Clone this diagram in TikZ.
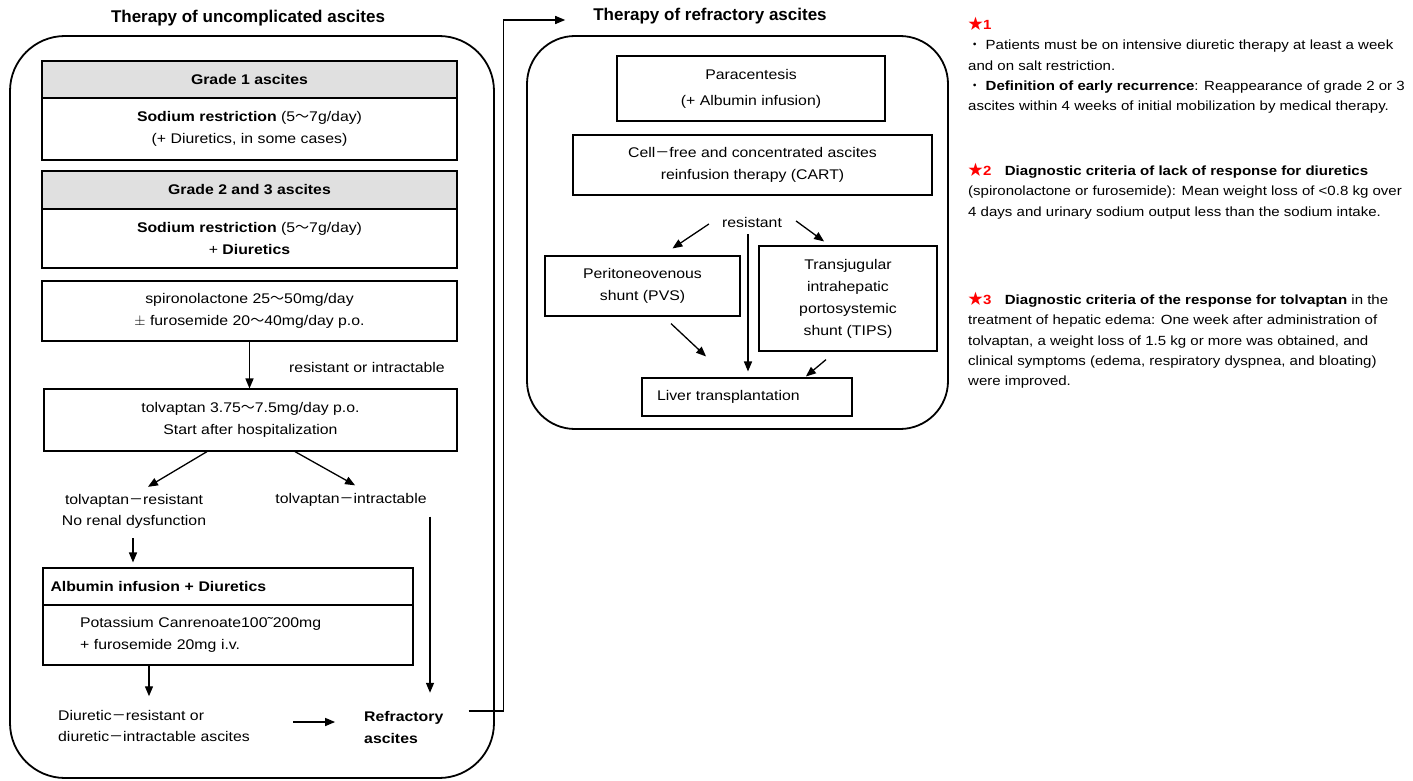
\documentclass[tikz,border=0pt]{standalone}
\usepackage{fontspec}
\setmainfont{Liberation Sans}[FakeStretch=1.13]
\newfontfamily\titlefont{Liberation Sans}
\newfontfamily\cjk{Noto Sans CJK JP}
\usepackage{tikz}
\usetikzlibrary{shapes,arrows,positioning}

\newcommand{\wave}{{\cjk ～}}
\newcommand{\hy}{{\cjk －}}
\newcommand{\dotmark}{{\cjk ・}}
\newcommand{\starno}[1]{\textcolor{red}{{\cjk\fontsize{15}{20}\selectfont ★}\textbf{#1}}}

\begin{document}
\begin{tikzpicture}[x=1pt, y=-1pt, >=triangle 45]
			\tikzstyle{Panel}	= [line width=1.8pt, rounded corners=55pt]
			\tikzstyle{Box}		= [draw, line width=1.2pt, align=center, inner sep=0pt, font=\fontsize{14}{22}\selectfont]
			\tikzstyle{Head}	= [Box, fill=black!12, font=\fontsize{14}{22}\selectfont\bfseries]
			\tikzstyle{Lbl}		= [align=center, inner sep=1pt, font=\fontsize{14}{21}\selectfont]
			\tikzstyle{Title}	= [inner sep=1pt, font=\titlefont\fontsize{17}{20}\selectfont\bfseries]
			\tikzstyle{Note}	= [anchor=north west, align=left, inner sep=0pt, font=\fontsize{13.3}{20.3}\selectfont]
			\tikzstyle{Arr}		= [line width=1.3pt]

			\useasboundingbox (0,0) rectangle (1413,781);

			% uncomplicated ascites
			\node (ltitle) at (248,18) [Title] {Therapy of uncomplicated ascites};
			\draw [Panel] (10,36) rectangle (494,778);

			\node (g1h) at (249.5,79.5) [Head, minimum width=415pt, minimum height=37pt] {Grade 1 ascites};
			\node (g1b) at (249.5,129) [Box, minimum width=415pt, minimum height=62pt] {\textbf{Sodium restriction} (5\wave7g/day)\\(+ Diuretics, in some cases)};
			\node (g2h) at (249.5,190) [Head, minimum width=415pt, minimum height=38pt] {Grade 2 and 3 ascites};
			\node (g2b) at (249.5,238.5) [Box, minimum width=415pt, minimum height=59pt] {\textbf{Sodium restriction} (5\wave7g/day)\\+ \textbf{Diuretics}};
			\node (spiro) at (249.5,311) [Box, minimum width=415pt, minimum height=60pt] {spironolactone 25\wave50mg/day\\$\pm$ furosemide 20\wave40mg/day p.o.};
			\node (rorI) at (367,367) [Lbl] {resistant or intractable};
			\node (tol) at (250.5,420) [Box, minimum width=413pt, minimum height=62pt] {tolvaptan 3.75\wave7.5mg/day p.o.\\Start after hospitalization};
			\node (tres) at (134,511) [Lbl] {tolvaptan\hy resistant\\No renal dysfunction};
			\node (tint) at (351,500) [Lbl] {tolvaptan\hy intractable};
			\node (albh) at (228,586.5) [Head, text width=355pt, inner xsep=7.5pt, minimum height=37pt, align=left, fill=white] {Albumin infusion + Diuretics};
			\node (albb) at (228,635) [Box, text width=296pt, inner xsep=37pt, minimum height=60pt, align=left] {Potassium Canrenoate100˜200mg\\+ furosemide 20mg i.v.};
			\node (dres) at (57,726) [Lbl, align=left, anchor=west] {Diuretic\hy resistant or\\diuretic\hy intractable ascites};
			\node (refr) at (363,727) [Lbl, align=left, anchor=west, font=\fontsize{14}{22}\selectfont\bfseries] {Refractory\\ascites};

			\draw [->] (spiro.south) to (spiro.south |- tol.north) [Arr];
			\draw [->] ([xshift=-43.5pt]tol.south) to ([xshift=14pt,yshift=6pt]tres.north) [Arr];
			\draw [->] ([xshift=44.5pt]tol.south) to ([xshift=4pt,yshift=7pt]tint.north) [Arr];
			\draw [->] ([xshift=-1pt,yshift=-9pt]tres.south) to ([xshift=-95pt,yshift=5pt]albh.north) [Arr];
			\draw [->] ([xshift=79pt,yshift=-9pt]tint.south) to ([xshift=79pt,yshift=17pt]tint.south |- refr.north) [Arr];
			\draw [->] ([xshift=-79pt]albb.south) to ([xshift=-79pt,yshift=13pt]albb.south |- dres.north) [Arr];
			\draw [->] ([xshift=42pt,yshift=4pt]dres.east) to ([xshift=-28pt,yshift=4pt]dres.east -| refr.west) [Arr];

			% refractory ascites
			\node (rtitle) at (710,16) [Title] {Therapy of refractory ascites};
			\draw [Panel, rounded corners=48pt] (527,36) rectangle (948,429);

			\node (para) at (751,88.5) [Box, minimum width=268pt, minimum height=65pt, font=\fontsize{14}{26}\selectfont] {Paracentesis\\(+ Albumin infusion)};
			\node (cart) at (752.5,165) [Box, minimum width=359pt, minimum height=60pt] {Cell\hy free and concentrated ascites\\reinfusion therapy (CART)};
			\node (res) at (752,222) [Lbl] {resistant};
			\node (pvs) at (642.5,286) [Box, minimum width=195pt, minimum height=60pt] {Peritoneovenous\\shunt (PVS)};
			\node (tips) at (848,298.5) [Box, minimum width=178pt, minimum height=105pt] {Transjugular\\intrahepatic\\portosystemic\\shunt (TIPS)};
			\node (liver) at (747,397) [Box, text width=180pt, inner xsep=15pt, minimum height=38pt, align=left] {Liver transplantation};

			\draw [->] ([xshift=-12pt,yshift=-2pt]res.west) to ([xshift=30pt,yshift=7pt]pvs.north) [Arr];
			\draw [->] ([xshift=13pt,yshift=1pt]res.east) to ([xshift=-24pt,yshift=4pt]tips.north) [Arr];
			\draw [->] ([xshift=-4pt,yshift=-6pt]res.south) to ([xshift=-4pt,yshift=6pt]res.south |- liver.north) [Arr];
			\draw [->] ([xshift=28.5pt,yshift=-7pt]pvs.south) to ([xshift=-41pt,yshift=21pt]liver.north) [Arr];
			\draw [->] ([xshift=-22pt,yshift=-8pt]tips.south) to ([xshift=59pt,yshift=1pt]liver.north) [Arr];

			% link between the panels
			\draw [->] ([xshift=24pt,yshift=16pt]refr.east) -- ++(35,0) |- ([xshift=-27pt,yshift=-4pt]rtitle.west) [Arr];

			% notes
			\node (n1) at (968,17) [Note] {\starno{1}\\
				\dotmark\ Patients must be on intensive diuretic therapy at least a week\\
				and on salt restriction.\\
				\dotmark\ \textbf{Definition of early recurrence}: Reappearance of grade 2 or 3\\
				ascites within 4 weeks of initial mobilization by medical therapy.};
			\node (n2) at (968,163) [Note] {\starno{2}\quad\textbf{Diagnostic criteria of lack of response for diuretics}\\
				(spironolactone or furosemide): Mean weight loss of <0.8 kg over\\
				4 days and urinary sodium output less than the sodium intake.};
			\node (n3) at (968,292) [Note] {\starno{3}\quad\textbf{Diagnostic criteria of the response for tolvaptan} in the\\
				treatment of hepatic edema: One week after administration of\\
				tolvaptan, a weight loss of 1.5 kg or more was obtained, and\\
				clinical symptoms (edema, respiratory dyspnea, and bloating)\\
				were improved.};

		\end{tikzpicture}
\end{document}
